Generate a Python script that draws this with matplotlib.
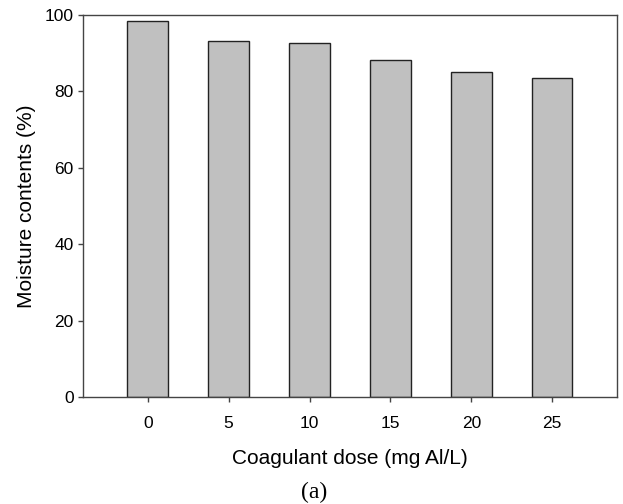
import matplotlib
matplotlib.use("Agg")
import matplotlib.pyplot as plt

doses = [0, 5, 10, 15, 20, 25]
moisture = [98.5, 93.3, 92.8, 88.2, 85.0, 83.5]
y_ticks = [0, 20, 40, 60, 80, 100]

plt.rcParams['font.family'] = ['Liberation Sans', 'DejaVu Sans']

fig = plt.figure(figsize=(6.23, 5.04), dpi=100)
ax = fig.add_axes([0.1332, 0.2123, 0.8571, 0.7579])

ax.bar(doses, moisture, width=2.5, color='#c0c0c0', edgecolor='#222222', linewidth=1.0)

ax.set_xlim(-4, 29)
ax.set_ylim(0, 100)
ax.set_xticks(doses)
ax.set_yticks(y_ticks)
ax.tick_params(axis='both', direction='out', length=3.6, width=1, color='#444444',
               labelsize=12.5, pad=3)
ax.tick_params(axis='x', pad=10)
for s in ax.spines.values():
    s.set_color('#444444')
    s.set_linewidth(1.0)

ax.set_xlabel('Coagulant dose (mg Al/L)', fontsize=15, labelpad=13)
ax.set_ylabel('Moisture contents (%)', fontsize=15, labelpad=6)

fig.text(0.504, 0.002, '(a)', fontsize=17, family=['Liberation Serif'], ha='center', va='bottom')

fig.savefig('out.png', dpi=100)
